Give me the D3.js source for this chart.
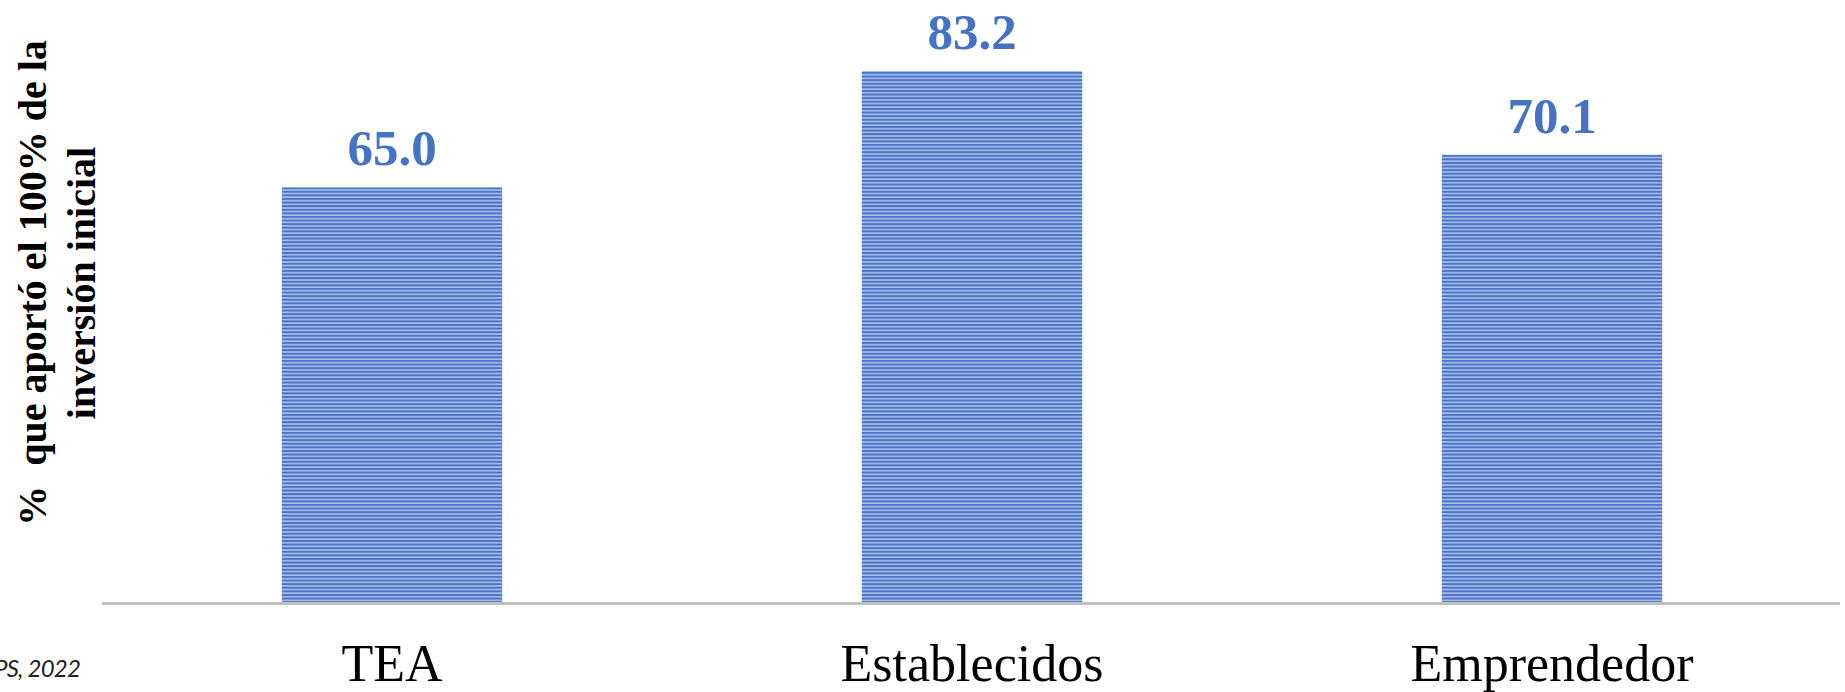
<!DOCTYPE html>
<html>
<head>
<meta charset="utf-8">
<script src="https://cdn.jsdelivr.net/npm/d3@7"></script>
<style>
    html, body { margin: 0; padding: 0; background: #fff; }
    svg { display: block; }
</style>
</head>
<body>
<div id="chart"></div>
<script>
// datos del grafico
const categories = ["TEA", "Establecidos", "Emprendedor"];
const values = [65.0, 83.2, 70.1];
const yTitleLines = ["%  que aportó el 100% de la", "inversión inicial"];
const sourceText = "APS, 2022";

const width = 1845;
const height = 692;
const margin = { left: 102, right: 3, bottom: 89, top: 27.5 };

const svg = d3
    .select("#chart")
    .append("svg")
    .attr("width", width)
    .attr("height", height);

// patron de rayas horizontales para las barras
const defs = svg.append("defs");
const pattern = defs
    .append("pattern")
    .attr("id", "stripes")
    .attr("patternUnits", "userSpaceOnUse")
    .attr("width", 8)
    .attr("height", 3.6);
pattern.append("rect").attr("width", 8).attr("height", 3.6).attr("fill", "#a8bfea");
pattern.append("rect").attr("width", 8).attr("height", 2).attr("fill", "#4a74c6");

const x = d3
    .scaleBand()
    .domain(categories)
    .range([margin.left, width - margin.right])
    .paddingInner(0.62)
    .paddingOuter(0.31);

const y = d3
    .scaleLinear()
    .domain([0, 90])
    .range([height - margin.bottom, margin.top]);

// barras
svg.append("g")
    .selectAll("rect")
    .data(values)
    .enter()
    .append("rect")
    .attr("x", (d, i) => x(categories[i]))
    .attr("y", (d) => y(d))
    .attr("width", x.bandwidth())
    .attr("height", (d) => y(0) - y(d))
    .attr("fill", "url(#stripes)");

// etiquetas de valores
svg.append("g")
    .selectAll("text")
    .data(values)
    .enter()
    .append("text")
    .attr("x", (d, i) => x(categories[i]) + x.bandwidth() / 2)
    .attr("y", (d) => y(d) - 22)
    .attr("text-anchor", "middle")
    .style("font-family", "'Liberation Serif', 'Times New Roman', serif")
    .style("font-weight", "bold")
    .style("font-size", "51px")
    .style("fill", "#4472c4")
    .text((d) => d.toFixed(1));

// eje x
const xAxis = svg
    .append("g")
    .attr("transform", `translate(0,${y(0)})`)
    .call(d3.axisBottom(x).tickSize(0).tickPadding(48));

xAxis.select(".domain")
    .attr("d", `M${margin.left},0.5H${width - 5}`)
    .attr("stroke", "#bfbfbf")
    .attr("stroke-width", 3);

xAxis.selectAll("text")
    .attr("dy", 0)
    .attr("y", 78)
    .style("font-family", "'Liberation Serif', 'Times New Roman', serif")
    .style("font-size", "52px")
    .style("fill", "#000");

// titulo eje y
const yTitle = svg
    .append("text")
    .attr("transform", "translate(46,283) rotate(-90)")
    .attr("text-anchor", "middle")
    .style("font-family", "'Liberation Serif', 'Times New Roman', serif")
    .style("font-weight", "bold")
    .style("font-size", "40px")
    .style("fill", "#000");

yTitle.selectAll("tspan")
    .data(yTitleLines)
    .enter()
    .append("tspan")
    .attr("x", 0)
    .attr("dy", (d, i) => (i === 0 ? 0 : 49))
    .style("white-space", "pre")
    .text((d) => d);

// fuente (recortada en el borde)
svg.append("text")
    .attr("x", 80)
    .attr("y", 677)
    .attr("text-anchor", "end")
    .style("font-family", "Lato, 'Open Sans', sans-serif")
    .style("font-style", "italic")
    .style("font-size", "24px")
    .style("letter-spacing", "-0.8px")
    .style("fill", "#222")
    .text(sourceText);
</script>
</body>
</html>
